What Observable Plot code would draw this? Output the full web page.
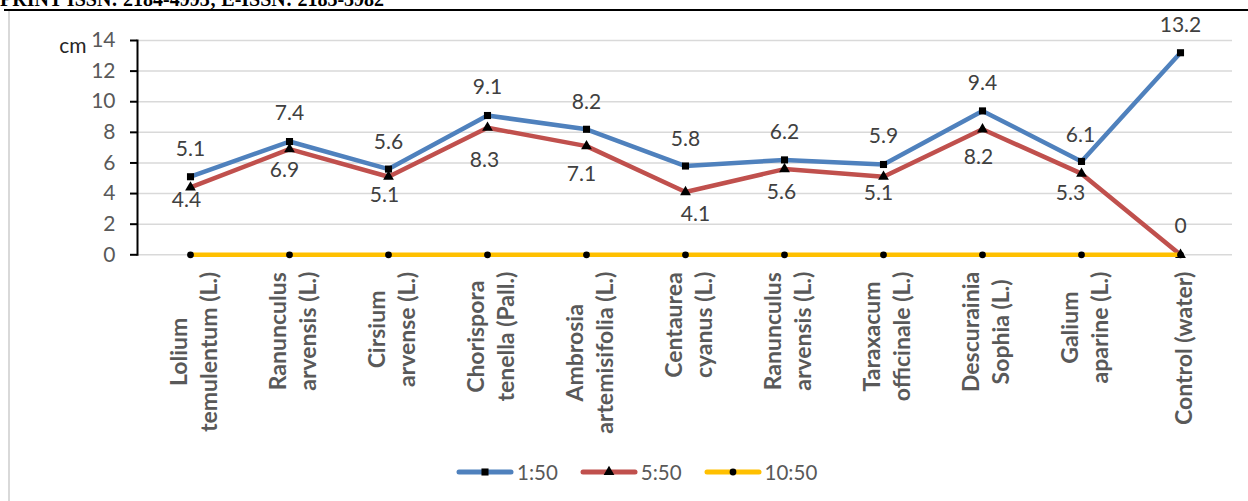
<!DOCTYPE html>
<html>
<head>
<meta charset="utf-8">
<script src="https://cdn.jsdelivr.net/npm/d3@7"></script>
<script src="https://cdn.jsdelivr.net/npm/@observablehq/plot@0.6"></script>
<style>
  html, body { margin: 0; padding: 0; background: #fff; }
  body { position: relative; width: 1248px; height: 501px; overflow: hidden; font-family: Lato, "Open Sans", sans-serif; }
  #journal { position: absolute; left: 0; top: -11px; font: bold 20px/1 "Liberation Serif", "DejaVu Serif", serif; color: #000; white-space: nowrap; }
  #rule { position: absolute; left: 4px; right: 0; top: 9px; height: 2px; background: #000; }
  #frame { position: absolute; left: 8px; top: 11px; bottom: 0; width: 2px; background: #d9d9d9; }
  #chart { position: absolute; left: 0; top: 0; }
  #legend { position: absolute; left: 456px; top: 460px; display: flex; align-items: center; gap: 22px; font-size: 20.5px; color: #595959; }
  #legend .item { display: flex; align-items: center; gap: 3px; }
  #legend svg { display: block; }
</style>
</head>
<body>
<div id="journal">PRINT ISSN: 2184-4993; E-ISSN: 2183-3982</div>
<div id="rule"></div>
<div id="frame"></div>
<div id="chart"></div>
<div id="legend"></div>
<script>
// Plant extracts (category axis) and measured seedling length in cm per dilution
const categories = [
  "Lolium\ntemulentum (L.)",
  "Ranunculus\narvensis (L.)",
  "Cirsium\narvense (L.)",
  "Chorispora\ntenella (Pall.)",
  "Ambrosia\nartemisifolia (L.)",
  "Centaurea\ncyanus (L.)",
  "Ranunculus\narvensis (L.)",
  "Taraxacum\nofficinale (L.)",
  "Descurainia\nSophia (L.)",
  "Galium\naparine (L.)",
  "Control (water)"
];
const seriesNames = ["1:50", "5:50", "10:50"];
const ratio1to50 = [5.1, 7.4, 5.6, 9.1, 8.2, 5.8, 6.2, 5.9, 9.4, 6.1, 13.2];
const ratio5to50 = [4.4, 6.9, 5.1, 8.3, 7.1, 4.1, 5.6, 5.1, 8.2, 5.3, 0];
const ratio10to50 = [0, 0, 0, 0, 0, 0, 0, 0, 0, 0, 0];
const yTicks = [0, 2, 4, 6, 8, 10, 12, 14];

// label nudges (px) for the value labels of each series
const nudge1 = { dx: [0, 0, 0, 0, 0, 0, 0, 0, 0, -1, 0], dy: [-27, -28, -27, -28, -27, -27, -28, -28, -28, -26, -27] };
const nudge2 = { dx: [-4, -5, -4, -3, -5, 10, -3, -5, -4, -11, 0], dy: [13, 21, 19, 33, 28, 22, 23, 17, 28, 20, -29] };

const colors = ["#4F81BD", "#C0504D", "#FFC000"];
const symbols = ["square", "triangle", "circle"];
const idx = d3.range(categories.length);
const series = [ratio1to50, ratio5to50, ratio10to50];

const valueLabels = (vals, nudge) => idx.map(i => Plot.text([i], {
  x: d => d, y: d => vals[d], text: d => String(vals[d]),
  dx: nudge.dx[i], dy: nudge.dy[i],
  fill: "#404040", fontSize: 21
}));

const marks = [
  Plot.ruleY(yTicks, { stroke: "#d9d9d9", strokeWidth: 1.5 }),
  Plot.axisY({ ticks: yTicks, tickSize: 7, tickPadding: 15, stroke: "#000", strokeWidth: 2, fill: "#595959", fontSize: 21, label: null }),
  Plot.frame({ anchor: "left", stroke: "#000", strokeWidth: 2 }),
  Plot.text(["cm"], { frameAnchor: "top-left", dx: -51, dy: -2, textAnchor: "end", fill: "#262626", fontSize: 21 })
];
series.forEach((vals, s) => {
  marks.push(Plot.line(idx, { x: d => d, y: d => vals[d], stroke: colors[s], strokeWidth: 4.5, strokeLinejoin: "round" }));
  marks.push(Plot.dot(idx, { x: d => d, y: d => vals[d], symbol: symbols[s], r: s === 2 ? 3.4 : 4, fill: "#000", stroke: "none" }));
});
marks.push(...valueLabels(ratio1to50, nudge1));
marks.push(...valueLabels(ratio5to50, nudge2));
marks.push(Plot.text(idx, {
  x: d => d, text: d => categories[d], frameAnchor: "bottom",
  rotate: -90, textAnchor: "middle", lineAnchor: "middle", lineHeight: 1.3,
  dx: 2, dy: 17, fontWeight: "bold", fill: "#595959", fontSize: 23, className: "cat-label"
}));

const chart = Plot.plot({
  width: 1248,
  height: 455,
  marginTop: 40,
  marginBottom: 200.7,
  marginLeft: 137,
  marginRight: 16,
  style: { fontFamily: "Lato, 'Open Sans', sans-serif", fontSize: "21px", color: "#595959", background: "transparent" },
  x: { type: "point", domain: idx, padding: 0.5, axis: null },
  y: { domain: [0, 14], axis: null },
  marks
});
document.getElementById("chart").appendChild(chart);

// hang each category label from just under the axis (top end aligned, lines centred)
chart.querySelectorAll(".cat-label text").forEach(t => {
  const w = t.getBBox().width;
  const tr = t.getAttribute("transform") || "";
  t.setAttribute("transform", `${tr} translate(${-w / 2},0)`);
});

// legend
const legend = d3.select("#legend");
seriesNames.forEach((name, s) => {
  const item = legend.append("div").attr("class", "item");
  const svg = item.append("svg").attr("width", 58).attr("height", 16);
  svg.append("line").attr("x1", 3).attr("x2", 55).attr("y1", 8).attr("y2", 8)
    .attr("stroke", colors[s]).attr("stroke-width", 5).attr("stroke-linecap", "round");
  svg.append("path").attr("transform", "translate(29,8)")
    .attr("d", d3.symbol(s === 0 ? d3.symbolSquare : s === 1 ? d3.symbolTriangle : d3.symbolCircle, s === 2 ? 36 : 50)())
    .attr("fill", "#000");
  item.append("span").text(name);
});
</script>
</body>
</html>
